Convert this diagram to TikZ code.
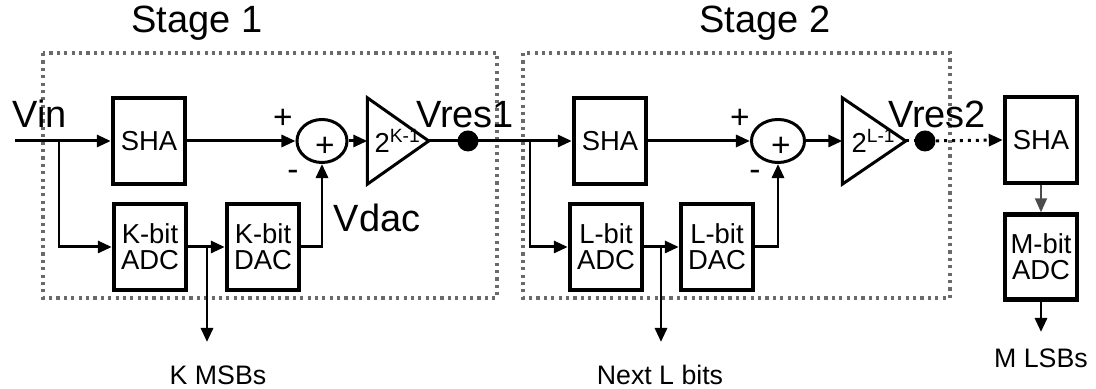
\documentclass[tikz,border=0pt]{standalone}
\usepackage{fontspec}
\setmainfont{Liberation Sans}
\usetikzlibrary{positioning,calc,arrows.meta,shapes.geometric}
\definecolor{boxgray}{HTML}{6A6A6A}

\begin{document}
\begin{tikzpicture}[x=0.01cm, y=-0.01cm,
  wire/.style={line width=0.85pt, -{Triangle[length=0.14cm,width=0.12cm]}},
  thinwire/.style={line width=0.55pt, draw=black!70, -{Triangle[length=0.14cm,width=0.12cm]}},
  blk/.style={draw, line width=1.25pt, minimum width=0.72cm, minimum height=0.86cm, inner sep=0pt, align=center, font=\fontsize{7.8}{7.3}\selectfont},
  sumnode/.style={ellipse, draw, line width=0.85pt, minimum width=0.5cm, minimum height=0.43cm, inner sep=0pt},
  ampbox/.style={minimum width=0.6cm, minimum height=0.85cm, inner sep=0pt, font=\fontsize{7.8}{8}\selectfont},
  biglbl/.style={font=\fontsize{10.8}{12}\selectfont, anchor=base, inner sep=0pt},
  outlbl/.style={font=\fontsize{7.6}{9}\selectfont, anchor=base, inner sep=0pt},
  pm/.style={font=\fontsize{9.5}{10}\selectfont, inner sep=0pt},
  stagebox/.style={draw=boxgray, line width=1pt, dash pattern=on 0.9pt off 1.2pt},
  dotwire/.style={line width=0.85pt, dash pattern=on 0.85pt off 1.4pt},
  jdot/.style={circle, fill, inner sep=0pt, minimum size=0.21cm},
]
\useasboundingbox (0,0) rectangle (1096,389);
\draw[stagebox] (43,53) rectangle (497,298);
\draw[stagebox] (523,53) rectangle (950,298);
\node[biglbl] (st1) at (197,33) {Stage 1};
\node[biglbl] (st2) at (765,33) {Stage 2};

\coordinate (vin) at (15,141);
\coordinate (br1) at (59,141);
\node[biglbl] (vinlbl) at (40,128) {Vin};
\node[blk] (sha1) at (149,141) {SHA};
\node[sumnode] (sum1) at (322,141) {};
\node[ampbox] (amp1) at (398,141) {2\textsuperscript{K-1}};
\draw[line width=0.85pt] (amp1.north west) -- (amp1.east) -- (amp1.south west) -- cycle;
\node[blk] (adc1) at (150,247) {K-bit\\ADC};
\node[blk] (dac1) at (263,247) {K-bit\\DAC};
\coordinate (msb1) at (207,247);
\coordinate (msb1end) at (207,342);
\node[jdot] (res1) at (468,141) {};
\node[biglbl] (res1lbl) at (465,128) {Vres1};
\node[biglbl] (vdaclbl) at (377,232) {Vdac};
\node[pm] at (283,119) {+};
\node[pm] at (293,175) {-};
\node[pm] at (325,147) {+};
\node[outlbl] (kmsb) at (218,385) {K MSBs};

\draw[wire] (vin) -- (sha1.west);
\draw[wire] (br1) |- (adc1.west);
\draw[wire] (sha1.east) -- (sum1.west);
\draw[wire] (sum1.east) -- (amp1.west);
\draw[wire] (adc1.east) -- (dac1.west);
\draw[wire] (msb1) -- (msb1end);
\draw[wire] (dac1.east) -| (sum1.south);

\coordinate (br2) at (530,141);
\node[blk] (sha2) at (610,141) {SHA};
\node[sumnode, minimum width=0.53cm] (sum2) at (778,141) {};
\node[ampbox, minimum width=0.62cm] (amp2) at (874,141) {2\textsuperscript{L-1}};
\draw[line width=0.85pt] (amp2.north west) -- (amp2.east) -- (amp2.south west) -- cycle;
\node[blk] (adc2) at (606,247) {L-bit\\ADC};
\node[blk] (dac2) at (717,247) {L-bit\\DAC};
\coordinate (lsb2) at (661,247);
\coordinate (lsb2end) at (661,342);
\node[jdot] (res2) at (925,141) {};
\node[biglbl] (res2lbl) at (937,128) {Vres2};
\node[pm] at (740,119) {+};
\node[pm] at (755,175) {-};
\node[pm] at (781,147) {+};
\node[outlbl] (nextl) at (660,385) {Next L bits};

\draw[wire] (amp1.east) -- (sha2.west);
\draw[wire] (br2) |- (adc2.west);
\draw[wire] (sha2.east) -- (sum2.west);
\draw[wire] (sum2.east) -- (amp2.west);
\draw[wire] (adc2.east) -- (dac2.west);
\draw[wire] (lsb2) -- (lsb2end);
\draw[wire] (dac2.east) -| (sum2.south);

\node[blk] (sha3) at (1041,140) {SHA};
\node[blk, minimum height=0.85cm] (adc3) at (1041,257) {M-bit\\ADC};
\coordinate (lsb3end) at (1041,332);
\node[outlbl] (mlsb) at (1041,368) {M LSBs};

\draw[dotwire] (amp2.east) -- (res2);
\draw[dotwire, -{Triangle[length=0.14cm,width=0.12cm]}] (res2) -- (sha3.west);
\draw[thinwire] (sha3.south) -- (adc3.north);
\draw[wire] (adc3.south) -- (lsb3end);
\end{tikzpicture}
\end{document}
